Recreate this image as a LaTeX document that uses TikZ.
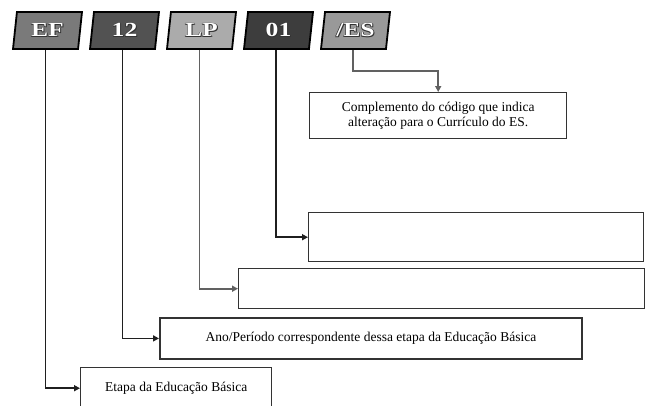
\documentclass[tikz,border=0pt]{standalone}
\usepackage{fontspec}
\setmainfont{Liberation Serif}
\newfontfamily\codefont[FakeStretch=1.28]{Liberation Serif}
\usetikzlibrary{shapes.geometric,arrows.meta}
\colorlet{code edge}{black}
\colorlet{box edge}{black!80}
\colorlet{link dark}{black!88}
\colorlet{link light}{black!62}
\def\glow#1#2#3{\rlap{\kern#1\raisebox{#2}{\color{black!80}#3}}}
\def\shadowed#1{\glow{1pt}{-1pt}{#1}\glow{-0.6pt}{0.6pt}{#1}\glow{0.6pt}{0.6pt}{#1}\glow{-0.6pt}{-0.6pt}{#1}\textcolor{white}{#1}}
\tikzset{code/.style={trapezium, trapezium left angle=75, trapezium right angle=105,
        trapezium stretches body, minimum width=69pt, minimum height=37pt,
        draw=code edge, line width=1.8pt, inner sep=0pt, font=\codefont\bfseries\fontsize{20}{20}\selectfont},
    infobox/.style={draw=box edge, line width=1.4pt, anchor=north west, inner sep=0pt,
        align=center, font=\fontsize{13.5}{15}\selectfont},
    link/.style={line width=1.8pt, draw=link dark, -{Triangle[length=6pt,width=6pt]}},
    lightlink/.style={link, draw=link light}}

\begin{document}
\begin{tikzpicture}[x=1pt, y=-1pt]
    \useasboundingbox (0,0) rectangle (650,405);
    \clip (0,0) rectangle (650,405);
    % code parts
    \node[code, fill=black!52] (ef) at (47.5,30.5) {\shadowed{EF}};
    \node[code, fill=black!68] (c12) at (124.5,30.5) {\shadowed{12}};
    \node[code, fill=black!33] (lp) at (201.5,30.5) {\shadowed{LP}};
    \node[code, fill=black!76] (c01) at (278.5,30.5) {\shadowed{01}};
    \node[code, fill=black!40] (es) at (355.5,30.5) {\shadowed{/ES}};
    % description boxes
    \node[infobox, minimum width=257pt, minimum height=46pt] (comp) at (309,92)
        {Complemento do código que indica\\alteração para o Currículo do ES.};
    \node[infobox, minimum width=335pt, minimum height=49pt] (comp01) at (308,212) {};
    \node[infobox, minimum width=406pt, minimum height=40pt] (complp) at (238,268) {};
    \node[infobox, line width=1.8pt, minimum width=422pt, minimum height=41pt] (ano) at (159,317)
        {Ano/Período correspondente dessa etapa da Educação Básica};
    \node[infobox, minimum width=191pt, minimum height=41pt] (etapa) at (80,367)
        {Etapa da Educação Básica};
    % connectors
    \draw[lightlink] (es.bottom side) -- ++(0,21) -| (comp.north);
    \draw[link] (c01.bottom side) |- (comp01.west);
    \draw[lightlink] (lp.bottom side) |- (complp.west);
    \draw[link] (c12.bottom side) |- (ano.west);
    \draw[link] (ef.bottom side) |- (etapa.west);
\end{tikzpicture}
\end{document}
